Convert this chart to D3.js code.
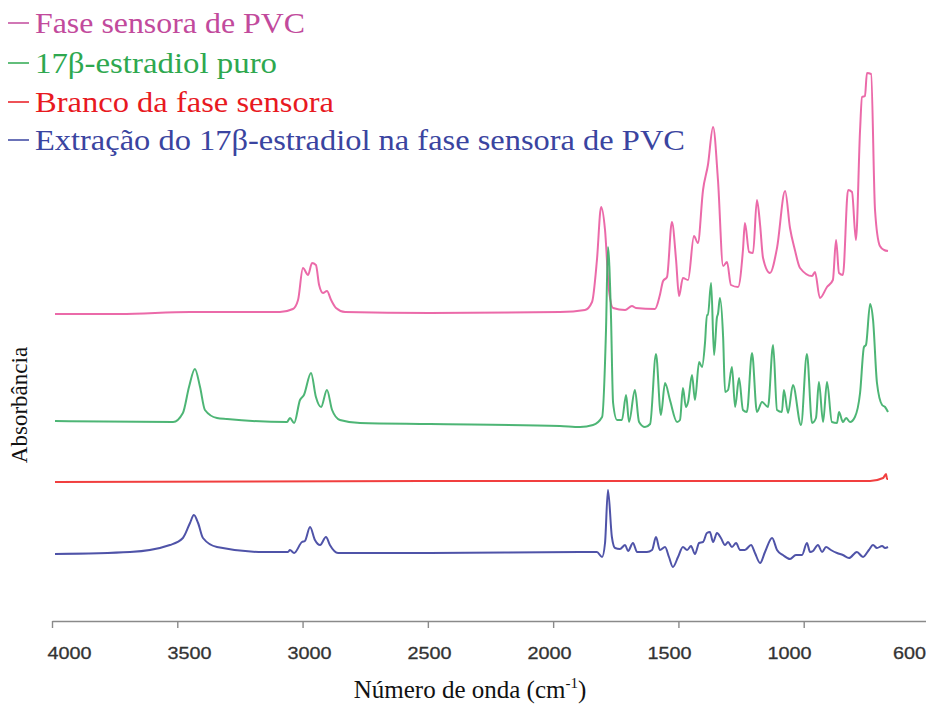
<!DOCTYPE html>
<html>
<head>
<meta charset="utf-8">
<script src="https://cdn.jsdelivr.net/npm/d3@7"></script>
<style>
  html, body { margin: 0; padding: 0; background: #fff; }
  svg { display: block; }
</style>
</head>
<body>
<svg id="chart" width="926" height="704"></svg>
<script>
// ---------------- DATA ----------------
const seriesNames = [
  "Fase sensora de PVC",
  "17β-estradiol puro",
  "Branco da fase sensora",
  "Extração do 17β-estradiol na fase sensora de PVC"
];
const seriesColors = ["#e95aa0", "#3aad66", "#f02a2a", "#3c409e"];
const legendTextColors = ["#c24a9c", "#2ea84f", "#e8191f", "#3a44a0"];

// wavenumber (cm-1), absorbance (offset traces, a.u.)
const pvcWavenumber = [4000,3735,3449,3082,3029,3008,2988,2967,2951,2935,2922,2906,2890,2873,2853,2816,2469,1939,1837,1808,1788,1771,1755,1739,1722,1673,1645,1629,1551,1531,1518,1502,1482,1465,1453,1437,1416,1392,1376,1355,1335,1314,1294,1273,1257,1241,1212,1192,1184,1167,1151,1135,1122,1110,1082,1053,1020,1000,980,959,910,898,878,849,825,812,800,784,763,747,731,714,706,694,686,669,653,633,616,600];
const pvcAbs = [.307,.307,.309,.309,.312,.321,.353,.346,.358,.356,.336,.328,.330,.321,.313,.309,.308,.309,.311,.319,.361,.414,.391,.331,.313,.311,.315,.313,.312,.326,.340,.344,.399,.361,.325,.343,.341,.385,.378,.431,.456,.494,.441,.355,.359,.336,.334,.371,.398,.369,.368,.421,.396,.363,.348,.373,.430,.393,.371,.353,.345,.349,.323,.334,.341,.381,.348,.346,.431,.429,.381,.491,.524,.525,.548,.547,.411,.375,.371,.370];

const estradiolWavenumber = [4000,3518,3478,3453,3429,3408,3388,3339,3298,3053,3041,3024,3000,2984,2955,2935,2914,2890,2869,2837,2755,2469,1939,1857,1804,1767,1751,1743,1731,1722,1706,1686,1669,1657,1633,1616,1592,1571,1547,1527,1510,1490,1461,1449,1437,1425,1416,1400,1388,1371,1359,1347,1339,1335,1322,1310,1298,1294,1286,1273,1265,1253,1237,1224,1208,1192,1176,1155,1135,1114,1090,1069,1053,1033,1025,1008,988,955,931,910,894,882,865,849,829,808,800,784,771,755,735,714,698,690,673,661,645,624,612,600];
const estradiolAbs = [.200,.199,.208,.234,.252,.234,.211,.203,.202,.199,.203,.198,.221,.226,.248,.224,.214,.231,.211,.201,.198,.197,.195,.194,.196,.204,.291,.374,.308,.218,.201,.201,.226,.199,.231,.199,.194,.197,.267,.206,.238,.221,.199,.201,.233,.214,.219,.246,.221,.259,.254,.278,.306,.306,.338,.266,.304,.307,.323,.284,.229,.231,.254,.214,.243,.211,.209,.268,.209,.219,.214,.276,.211,.209,.231,.208,.236,.196,.267,.198,.203,.239,.199,.239,.199,.198,.209,.199,.203,.199,.204,.228,.274,.276,.317,.301,.238,.216,.214,.209];

const blankWavenumber = [4000,2500,1200,673,620,608,604,600];
const blankAbs = [.139,.140,.140,.140,.143,.147,.142,.142];

const extractWavenumber = [4000,3694,3531,3478,3449,3433,3416,3396,3339,3151,3049,3041,3024,2992,2980,2959,2939,2918,2894,2878,2845,2469,1857,1788,1767,1755,1743,1727,1714,1694,1673,1661,1641,1624,1584,1563,1547,1531,1510,1494,1478,1457,1437,1420,1404,1388,1371,1355,1339,1327,1314,1298,1282,1265,1253,1237,1220,1204,1184,1159,1143,1122,1102,1073,1053,1029,1000,976,951,931,918,906,886,869,853,833,808,784,759,727,702,678,661,645,624,612,600];
const extractAbs = [.067,.069,.076,.083,.098,.106,.098,.083,.074,.069,.069,.071,.068,.079,.080,.094,.081,.076,.084,.076,.068,.068,.069,.069,.064,.078,.131,.084,.073,.072,.076,.070,.078,.069,.069,.071,.084,.071,.074,.064,.054,.064,.074,.071,.075,.067,.078,.079,.088,.089,.079,.088,.083,.076,.079,.074,.078,.071,.071,.076,.068,.058,.069,.083,.071,.066,.062,.066,.066,.078,.069,.070,.076,.069,.074,.071,.068,.066,.063,.069,.064,.071,.076,.073,.075,.073,.074];

const tickValues = [4000, 3500, 3000, 2500, 2000, 1500, 1000, 500];
const tickLabels = ["4000", "3500", "3000", "2500", "2000", "1500", "1000", "600"];
const xTitle = "Número de onda (cm";
const yTitle = "Absorbância";

// ---------------- DRAW ----------------
const svg = d3.select("#chart");

// scale for the spectra
const x = d3.scaleLinear().domain([4000, 600]).range([55, 888]);
const y = d3.scaleLinear().domain([0, 0.55]).range([621, 71]);
// axis tick marks / tick labels (as placed in the original figure)
const xTick = d3.scaleLinear().domain([4000, 500]).range([52, 929]);
const xLabel = d3.scaleLinear().domain([4000, 500]).range([69, 909]);

const series = [
  {w: pvcWavenumber, a: pvcAbs},
  {w: estradiolWavenumber, a: estradiolAbs},
  {w: blankWavenumber, a: blankAbs},
  {w: extractWavenumber, a: extractAbs}
];

const line = d3.line()
  .x(d => x(d[0]))
  .y(d => y(d[1]))
  .curve(d3.curveMonotoneX);

// axis line + ticks
const axisG = svg.append("g").attr("transform", "translate(0,621)");
axisG.call(d3.axisBottom(xTick).tickValues(tickValues).tickSize(7).tickSizeOuter(0).tickFormat(""));
axisG.select(".domain").attr("stroke", "#8a8a8a").attr("stroke-width", 1.6);
axisG.selectAll(".tick line").attr("stroke", "#8a8a8a").attr("stroke-width", 1.4);

// axis labels
const labG = svg.append("g").attr("transform", "translate(0,621)");
labG.call(d3.axisBottom(xLabel).tickValues(tickValues).tickSize(0).tickPadding(26)
  .tickFormat((d, i) => tickLabels[i]));
labG.select(".domain").remove();
labG.selectAll(".tick text")
  .attr("font-family", "'Liberation Sans', Arial, sans-serif")
  .attr("font-size", 17)
  .attr("fill", "#333")
  .attr("stroke", "#333").attr("stroke-width", 0.3)
  .attr("textLength", 44).attr("lengthAdjust", "spacingAndGlyphs");
labG.selectAll(".tick text").filter((d, i) => i === tickLabels.length - 1)
  .attr("textLength", 33);

// spectra
svg.append("g").selectAll("path")
  .data(series)
  .join("path")
  .attr("d", s => line(s.w.map((w, i) => [w, s.a[i]])))
  .attr("fill", "none")
  .attr("stroke", (s, i) => seriesColors[i])
  .attr("stroke-width", 2)
  .attr("stroke-linejoin", "round")
  .attr("opacity", 0.9);

// legend
const legendBaselines = [33, 73, 112, 150];
const legendWidths = [270, 242, 299, 650];
const lg = svg.append("g");
seriesNames.forEach((name, i) => {
  lg.append("line")
    .attr("x1", 8).attr("x2", 29)
    .attr("y1", legendBaselines[i] - 10).attr("y2", legendBaselines[i] - 10)
    .attr("stroke", legendTextColors[i]).attr("stroke-width", 1.5);
  lg.append("text")
    .attr("x", 35).attr("y", legendBaselines[i])
    .attr("font-family", "'Liberation Serif', 'Times New Roman', serif")
    .attr("font-size", 29)
    .attr("fill", legendTextColors[i])
    .attr("textLength", legendWidths[i])
    .attr("lengthAdjust", "spacingAndGlyphs")
    .text(name);
});

// x title
const xt = svg.append("text")
  .attr("x", 470).attr("y", 698)
  .attr("text-anchor", "middle")
  .attr("font-family", "'Liberation Serif', 'Times New Roman', serif")
  .attr("font-size", 25)
  .attr("fill", "#111");
xt.append("tspan").text(xTitle);
xt.append("tspan").attr("font-size", 15).attr("dy", -10).text("-1");
xt.append("tspan").attr("dy", 10).text(")");

// y title
svg.append("text")
  .attr("transform", "translate(27,405) rotate(-90)")
  .attr("text-anchor", "middle")
  .attr("font-family", "'Liberation Serif', 'Times New Roman', serif")
  .attr("font-size", 23)
  .attr("fill", "#111")
  .text(yTitle);
</script>
</body>
</html>
